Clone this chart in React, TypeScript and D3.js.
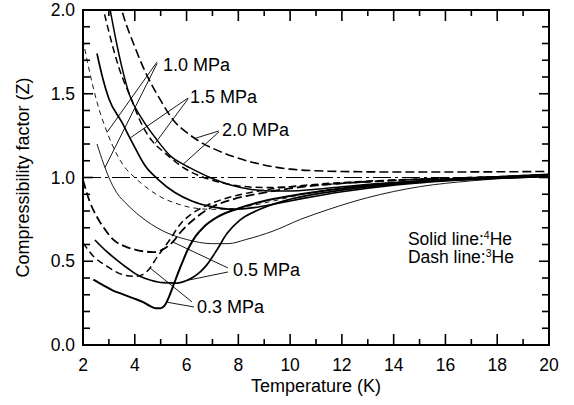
import React from 'react';
import * as d3 from 'd3';

type Pt = [number, number];

// ---- axis ticks ----
const xMajorTicks = [2, 4, 6, 8, 10, 12, 14, 16, 18, 20];
const xMinorTicks = [3, 5, 7, 9, 11, 13, 15, 17, 19];
const yMajorTicks = [0.0, 0.5, 1.0, 1.5, 2.0];
const yMinorTicks = [0.1, 0.2, 0.3, 0.4, 0.6, 0.7, 0.8, 0.9, 1.1, 1.2, 1.3, 1.4, 1.6, 1.7, 1.8, 1.9];

// ---- 4He (solid lines): [T (K), Z] ----
const he4_03: Pt[] = [[2.4,0.39],[2.8,0.355],[3.16,0.325],[3.5,0.305],[3.93,0.28],[4.3,0.258],[4.6,0.232],[4.8,0.22],[5.0,0.22],[5.15,0.235],[5.3,0.28],[5.5,0.36],[5.75,0.46],[6.05,0.57],[6.35,0.65],[6.7,0.71],[7.2,0.765],[8,0.815],[9,0.86],[10,0.89],[12,0.935],[14,0.965],[16,0.985],[18,0.997],[20,1.007]];
const he4_05: Pt[] = [[2.46,0.627],[2.9,0.56],[3.31,0.507],[3.75,0.455],[4.2,0.41],[4.65,0.385],[5.09,0.372],[5.63,0.37],[6.0,0.385],[6.25,0.405],[6.55,0.44],[6.79,0.48],[7.17,0.567],[7.56,0.665],[8.06,0.745],[8.83,0.81],[10,0.87],[12,0.925],[14,0.96],[16,0.982],[18,0.996],[20,1.006]];
const he4_10: Pt[] = [[2.54,1.2],[2.8,1.08],[3.0,1.0],[3.3,0.91],[3.7,0.84],[4.2,0.77],[5.1,0.68],[6.0,0.63],[7.0,0.605],[7.6,0.605],[8.3,0.63],[9.34,0.68],[10.4,0.75],[11.5,0.81],[13,0.88],[15,0.945],[17,0.98],[20,1.008]];
const he4_15: Pt[] = [[2.54,1.74],[2.75,1.6],[3.0,1.47],[3.5,1.33],[3.9,1.21],[4.4,1.07],[4.93,0.985],[5.55,0.91],[6.2,0.86],[7.0,0.825],[7.8,0.81],[8.6,0.82],[9.5,0.845],[10.5,0.875],[12,0.915],[14,0.955],[16,0.98],[18,0.997],[20,1.012]];
const he4_20: Pt[] = [[2.95,2.08],[3.05,2.0],[3.3,1.8],[3.5,1.66],[3.78,1.5],[4.28,1.35],[4.78,1.24],[5.44,1.12],[5.86,1.08],[6.1,1.06],[6.9,1.0],[7.7,0.955],[8.45,0.93],[9.2,0.92],[10,0.92],[11,0.93],[12,0.945],[14,0.97],[16,0.99],[18,1.005],[20,1.02]];

// ---- 3He (dashed lines): [T (K), Z] ----
const he3_03: Pt[] = [[2.0,0.61],[2.4,0.53],[2.93,0.47],[3.54,0.42],[4.0,0.41],[4.3,0.42],[4.59,0.46],[4.86,0.525],[5.1,0.575],[5.36,0.63],[5.75,0.72],[6.13,0.775],[6.6,0.82],[7.3,0.865],[8,0.895],[9,0.925],[10,0.945],[12,0.97],[14,0.985],[16,0.995],[18,1.003],[20,1.01]];
const he3_05: Pt[] = [[2.0,0.985],[2.25,0.86],[2.54,0.764],[2.85,0.69],[3.16,0.63],[3.6,0.59],[4.08,0.567],[4.7,0.555],[5.24,0.585],[5.47,0.615],[5.75,0.67],[6.4,0.765],[7.0,0.825],[7.8,0.87],[9,0.91],[10,0.935],[12,0.965],[14,0.983],[16,0.995],[18,1.003],[20,1.012]];
const he3_10: Pt[] = [[2.0,1.82],[2.3,1.6],[2.54,1.45],[2.93,1.27],[3.3,1.14],[3.62,1.06],[4.0,1.0],[4.54,0.93],[5.05,0.88],[5.7,0.84],[6.2,0.82],[7.0,0.81],[7.8,0.815],[8.6,0.835],[9.5,0.865],[10.5,0.9],[12,0.94],[14,0.97],[16,0.99],[18,1.0],[20,1.012]];
const he3_15: Pt[] = [[2.75,2.04],[2.8,2.0],[3.0,1.87],[3.4,1.65],[3.89,1.46],[4.2,1.34],[4.66,1.22],[5.17,1.146],[5.82,1.065],[6.5,1.01],[7.2,0.975],[8,0.95],[9,0.94],[10,0.945],[11,0.955],[12,0.965],[14,0.982],[16,0.995],[18,1.005],[20,1.018]];
const he3_20: Pt[] = [[3.4,2.06],[3.5,2.0],[4.0,1.78],[4.5,1.6],[5.0,1.46],[5.5,1.34],[6.0,1.27],[6.5,1.215],[7.0,1.175],[7.8,1.125],[8.7,1.085],[10,1.05],[11,1.04],[12,1.036],[14,1.033],[16,1.033],[18,1.034],[20,1.036]];

// ---- annotations: pressure labels [text, T, Z] ----
const pressureLabels: [string, number, number][] = [
  ['1.0 MPa', 5.09, 1.635],
  ['1.5 MPa', 6.13, 1.445],
  ['2.0 MPa', 7.37, 1.25],
  ['0.5 MPa', 7.79, 0.41],
  ['0.3 MPa', 6.4, 0.19],
];

const FONT = "'Liberation Sans', Arial, Helvetica, sans-serif";

const series = [
  { data: he4_03, w: 2.0, dash: null },
  { data: he4_05, w: 1.7, dash: null },
  { data: he4_10, w: 0.9, dash: null },
  { data: he4_15, w: 1.7, dash: null },
  { data: he4_20, w: 1.5, dash: null },
  { data: he3_03, w: 1.5, dash: '7,4' },
  { data: he3_05, w: 1.8, dash: '9,4' },
  { data: he3_10, w: 0.9, dash: '5,4' },
  { data: he3_15, w: 1.5, dash: '7,4' },
  { data: he3_20, w: 1.6, dash: '9,4' },
];

function zAt(data: Pt[], t: number): number {
  for (let i = 0; i < data.length - 1; i++) {
    const [t0, z0] = data[i];
    const [t1, z1] = data[i + 1];
    if (t >= t0 && t <= t1) return z0 + ((z1 - z0) * (t - t0)) / (t1 - t0);
  }
  return data[data.length - 1][1];
}

// pointer lines: [from T, from Z, curve, target T]
const pointers: [number, number, Pt[], number][] = [
  [4.86, 1.69, he3_10, 2.93],
  [4.86, 1.68, he4_10, 2.85],
  [6.06, 1.475, he4_15, 3.815],
  [6.06, 1.47, he3_15, 4.78],
  [7.25, 1.278, he3_20, 6.33],
  [7.25, 1.272, he4_20, 5.87],
  [7.6, 0.46, he3_05, 5.47],
  [7.6, 0.436, he4_05, 6.0],
  [6.29, 0.227, he4_03, 5.22],
  [6.21, 0.257, he3_03, 4.59],
];

export default function App() {
  const x = d3.scaleLinear().domain([2, 20]).range([83, 549]);
  const y = d3.scaleLinear().domain([0, 2]).range([345, 10]);
  const line = d3
    .line<Pt>()
    .x((d) => x(d[0]))
    .y((d) => y(d[1]))
    .curve(d3.curveMonotoneX);

  const [x0, x1] = x.range();
  const [yb, yt] = y.range();

  return (
    <svg
      width={574}
      height={405}
      style={{ position: 'absolute', left: 0, top: 0, background: '#fff' }}
      fontFamily={FONT}
    >
      <defs>
        <clipPath id="plot">
          <rect x={x0} y={yt} width={x1 - x0} height={yb - yt} />
        </clipPath>
      </defs>
      <rect x={0} y={0} width={574} height={405} fill="#fff" />

      {/* Z = 1 reference */}
      <line x1={x0} x2={x1} y1={y(1)} y2={y(1)} stroke="#000" strokeWidth={1.1} strokeDasharray="18,4,3,4" />

      <g clipPath="url(#plot)" fill="none" stroke="#000">
        {series.map((s, i) => (
          <path key={i} d={line(s.data) || ''} strokeWidth={s.w} strokeDasharray={s.dash || undefined} />
        ))}
      </g>

      {/* pointers */}
      <g stroke="#000" strokeWidth={0.9}>
        {pointers.map(([ft, fz, data, tt], i) => (
          <line key={i} x1={x(ft)} y1={y(fz)} x2={x(tt)} y2={y(zAt(data, tt))} />
        ))}
      </g>
      <g fontSize={18} fill="#000">
        {pressureLabels.map(([t, tt, zz], i) => (
          <text key={i} x={x(tt)} y={y(zz)}>{t}</text>
        ))}
      </g>

      {/* legend text */}
      <g fontSize={17.5} fill="#000">
        <text x={x(14.55)} y={y(0.6)}>
          Solid line:<tspan fontSize={10.5} dy={-6}>4</tspan><tspan dy={6}>He</tspan>
        </text>
        <text x={x(14.55)} y={y(0.488)}>
          Dash line:<tspan fontSize={10.5} dy={-6}>3</tspan><tspan dy={6}>He</tspan>
        </text>
      </g>

      {/* frame */}
      <rect x={x0} y={yt} width={x1 - x0} height={yb - yt} fill="none" stroke="#000" strokeWidth={2} />

      {/* ticks */}
      <g stroke="#000" strokeWidth={1.6}>
        {xMajorTicks.map((t) => (
          <g key={'xM' + t}>
            <line x1={x(t)} x2={x(t)} y1={yb} y2={yb - 11} />
            <line x1={x(t)} x2={x(t)} y1={yt} y2={yt + 11} />
          </g>
        ))}
        {xMinorTicks.map((t) => (
          <g key={'xm' + t}>
            <line x1={x(t)} x2={x(t)} y1={yb} y2={yb - 6} />
            <line x1={x(t)} x2={x(t)} y1={yt} y2={yt + 6} />
          </g>
        ))}
        {yMajorTicks.map((t) => (
          <g key={'yM' + t}>
            <line x1={x0} x2={x0 + 10} y1={y(t)} y2={y(t)} />
            <line x1={x1} x2={x1 - 10} y1={y(t)} y2={y(t)} />
          </g>
        ))}
        {yMinorTicks.map((t) => (
          <g key={'ym' + t}>
            <line x1={x0} x2={x0 + 7} y1={y(t)} y2={y(t)} />
            <line x1={x1} x2={x1 - 7} y1={y(t)} y2={y(t)} />
          </g>
        ))}
      </g>

      {/* tick labels */}
      <g fontSize={17.5} fill="#000">
        {xMajorTicks.map((t) => (
          <text key={'xl' + t} x={x(t)} y={yb + 26} textAnchor="middle">{t}</text>
        ))}
        {yMajorTicks.map((t) => (
          <text key={'yl' + t} x={x0 - 8} y={y(t) + 6} textAnchor="end">{t.toFixed(1)}</text>
        ))}
      </g>

      {/* axis titles */}
      <text x={(x0 + x1) / 2} y={392} textAnchor="middle" fontSize={18}>Temperature (K)</text>
      <text transform={`translate(29, ${(yb + yt) / 2}) rotate(-90)`} textAnchor="middle" fontSize={18}>
        Compressibility factor (Z)
      </text>
    </svg>
  );
}
